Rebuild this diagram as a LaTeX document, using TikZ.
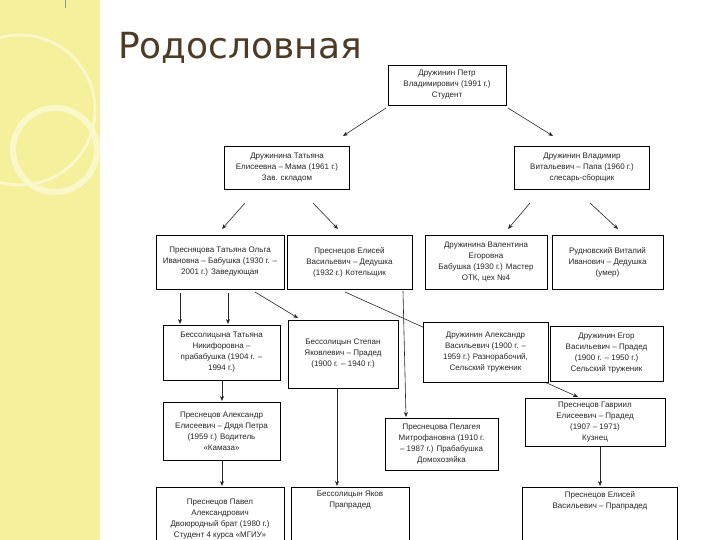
\documentclass[tikz,border=0pt]{standalone}
\usepackage{fontspec}
\setmainfont{Liberation Sans}
\newfontfamily\titlefont{DejaVu Sans}
\usetikzlibrary{arrows.meta}
\pgfdeclarelayer{back}
\pgfdeclarelayer{lines}
\pgfsetlayers{back,lines,main}
\definecolor{band}{HTML}{F5F09C}
\definecolor{bandlight}{HTML}{FAF7C8}
\definecolor{titlec}{HTML}{4E3B26}
\begin{document}
\begin{tikzpicture}[x=1pt,y=-1pt,
  box/.style={draw=black,line width=0.8pt,fill=white,align=center,
    font=\fontsize{8}{11}\selectfont,inner sep=1pt,text=black!85},
  conn/.style={draw=black!85,line width=0.6pt,-{Stealth[length=5pt,width=4pt]}}]
\path[use as bounding box] (0,0) rectangle (720,540);
\begin{pgfonlayer}{back}
  \fill[white] (0,0) rectangle (720,540);
  \fill[band] (0,0) rectangle (100,540);
  \begin{scope}
    \clip (0,0) rectangle (100,540);
    \draw[bandlight,line width=6pt] (55,150) circle (42);
    \draw[bandlight,line width=3pt] (20,110) circle (75);
  \end{scope}
  \draw[black!40,line width=0.6pt] (65,0) -- (65,8);
\end{pgfonlayer}

\node[anchor=base west,font=\titlefont\fontsize{36}{36}\selectfont,text=titlec,inner sep=0] (title) at (118,59) {Родословная};

% generation 1
\node[box,minimum width=118,minimum height=40] (t) at (447,85) {Дружинин Петр\\Владимирович (1991 г.)\\Студент};
% generation 2
\node[box,minimum width=125,minimum height=43] (m) at (287,168) {Дружинина Татьяна\\Елисеевна – Мама (1961 г.)\\Зав. складом};
\node[box,minimum width=135,minimum height=43] (f) at (582,168) {Дружинин Владимир\\Витальевич – Папа (1960 г.)\\слесарь-сборщик};
% generation 3
\node[box,minimum width=128,minimum height=54] (g3a) at (220,262) {Пресняцова Татьяна Ольга\\Ивановна – Бабушка (1930 г. –\\2001 г.) Заведующая};
\node[box,minimum width=125,minimum height=54] (g3b) at (349.5,262) {Преснецов Елисей\\Васильевич – Дедушка\\(1932 г.) Котельщик};
\node[box,minimum width=122,minimum height=54] (g3c) at (486,262) {Дружинина Валентина\\Егоровна\\Бабушка (1930 г.) Мастер\\ОТК, цех №4};
\node[box,minimum width=111,minimum height=54] (g3d) at (607.5,262) {Рудновский Виталий\\Иванович – Дедушка\\(умер)};
% generation 4
\node[box,minimum width=117,minimum height=55] (g4a) at (221.5,352.5) {Бессолицына Татьяна\\Никифоровна –\\прабабушка (1904 г. –\\1994 г.)};
\node[box,minimum width=110,minimum height=68] (g4b) at (343,354) {Бессолицын Степан\\Яковлевич – Прадед\\(1900 г. – 1940 г.)};
\node[box,minimum width=125,minimum height=60] (g4c) at (485.5,352) {Дружинин Александр\\Васильевич (1900 г. –\\1959 г.) Разнорабочий,\\Сельский труженик};
\node[box,minimum width=113,minimum height=55] (g4d) at (606.5,353.5) {Дружинин Егор\\Васильевич – Прадед\\(1900 г. – 1950 г.)\\Сельский труженик};
% generation 5
\node[box,minimum width=117,minimum height=58] (g5a) at (221.5,431) {Преснецов Александр\\Елисеевич – Дядя Петра\\(1959 г.) Водитель\\«Камаза»};
\node[box,minimum width=113,minimum height=52] (g5b) at (441.5,444) {Преснецова Пелагея\\Митрофановна (1910 г.\\– 1987 г.) Прабабушка\\Домохозяйка};
\node[box,minimum width=140,minimum height=48] (g5c) at (595,422) {Преснецов Гавриил\\Елисеевич – Прадед\\(1907 – 1971)\\Кузнец};
% generation 6
\node[box,minimum width=128,minimum height=64] (g6a) at (220,519) {Преснецов Павел\\Александрович\\Двоюродный брат (1980 г.)\\Студент 4 курса «МГИУ»};
\node[box,minimum width=118,anchor=north,text depth=40pt,inner ysep=4pt] (g6b) at (350,487) {Бессолицын Яков\\Прапрадед};
\node[box,minimum width=155,anchor=north,text depth=40pt,inner ysep=4pt] (g6c) at (600,487) {Преснецов Елисей\\Васильевич – Прапрадед};

% connector end points
\coordinate (c1a) at (386,108); \coordinate (c1b) at (343,136);
\coordinate (c2a) at (508,108); \coordinate (c2b) at (553,136);
\coordinate (c3a) at (245,203); \coordinate (c3b) at (222,229);
\coordinate (c4a) at (313,203); \coordinate (c4b) at (338,229);
\coordinate (c5a) at (530,203); \coordinate (c5b) at (508,229);
\coordinate (c6a) at (590,203); \coordinate (c6b) at (618,229);
\coordinate (c7a) at (180,293); \coordinate (c7b) at (180,324);
\coordinate (c8a) at (228,293); \coordinate (c8b) at (228,324);
\coordinate (c9a) at (255,292); \coordinate (c9b) at (298,318);
\coordinate (c10a) at (403,291); \coordinate (c10b) at (406,417);
\coordinate (c11a) at (345,292); \coordinate (c11b) at (578,397);
\coordinate (c12a) at (222,381); \coordinate (c12b) at (222,401);
\coordinate (c13a) at (337,389); \coordinate (c13b) at (337,486);
\coordinate (c14a) at (222,461); \coordinate (c14b) at (222,486);
\coordinate (c15a) at (600,447); \coordinate (c15b) at (600,486);

\begin{pgfonlayer}{lines}
  \draw[conn] (c1a) -- (c1b);
  \draw[conn] (c2a) -- (c2b);
  \draw[conn] (c3a) -- (c3b);
  \draw[conn] (c4a) -- (c4b);
  \draw[conn] (c5a) -- (c5b);
  \draw[conn] (c6a) -- (c6b);
  \draw[conn] (c7a) -- (c7b);
  \draw[conn] (c8a) -- (c8b);
  \draw[conn] (c9a) -- (c9b);
  \draw[conn] (c10a) -- (c10b);
  \draw[conn] (c11a) -- (c11b);
  \draw[conn] (c12a) -- (c12b);
  \draw[conn] (c13a) -- (c13b);
  \draw[conn] (c14a) -- (c14b);
  \draw[conn] (c15a) -- (c15b);
\end{pgfonlayer}
\end{tikzpicture}
\end{document}
